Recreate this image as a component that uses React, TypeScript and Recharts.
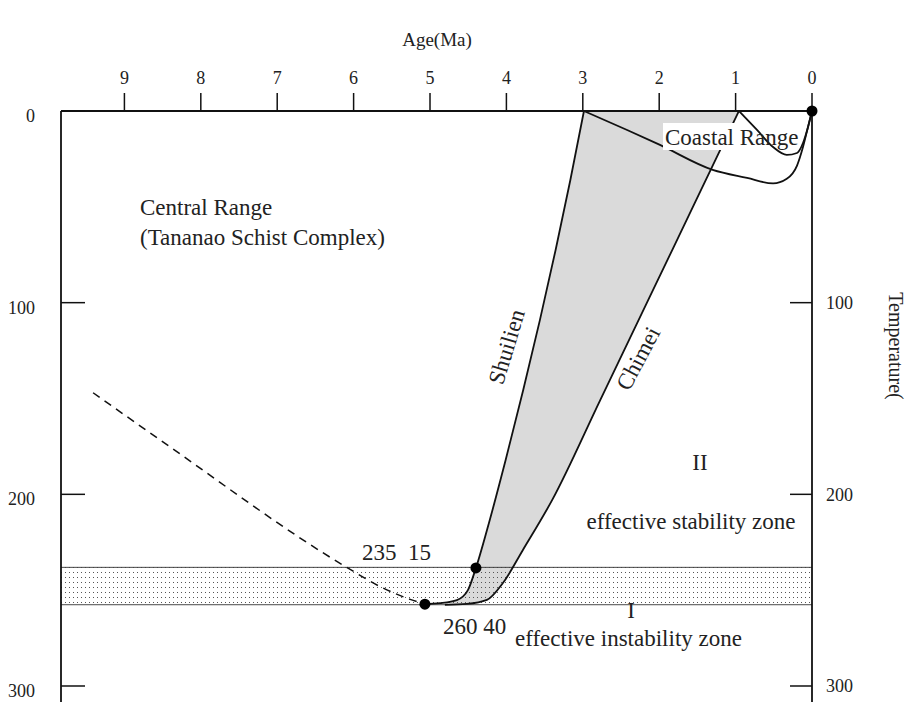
import { ComposedChart, Line, Area, XAxis, YAxis } from 'recharts'

// ages in Ma, temperatures in °C
const ageTicks = [0, 1, 2, 3, 4, 5, 6, 7, 8, 9]
const tempTicks = [0, 100, 200, 300]
const tempTicksRight = [100, 200, 300]

const shuilien = [
  { age: 5.067, T: 257.3 }, { age: 4.87, T: 256.8 }, { age: 4.648, T: 255.2 },
  { age: 4.504, T: 250.0 }, { age: 4.399, T: 238.4 }, { age: 4.254, T: 218.6 },
  { age: 4.01, T: 182.1 }, { age: 3.78, T: 145.6 }, { age: 3.561, T: 109.0 },
  { age: 3.356, T: 72.5 }, { age: 3.163, T: 36.0 }, { age: 2.985, T: 0 },
]

const chimei = [
  { age: 4.805, T: 257.7 }, { age: 4.517, T: 257.2 }, { age: 4.255, T: 255.1 },
  { age: 4.046, T: 246.3 }, { age: 3.784, T: 229.0 }, { age: 3.4, T: 202.9 },
  { age: 2.772, T: 150.8 }, { age: 2.143, T: 98.6 }, { age: 1.515, T: 46.4 },
  { age: 0.956, T: 0 },
]

const coastalOuter = [
  { age: 2.985, T: 0 }, { age: 2.42, T: 9.9 }, { age: 1.99, T: 17.7 },
  { age: 1.3, T: 30.7 }, { age: 0.85, T: 34.9 }, { age: 0.51, T: 37.8 },
  { age: 0.33, T: 35.4 }, { age: 0.196, T: 28.5 }, { age: 0.118, T: 18.8 },
  { age: 0.052, T: 8.3 }, { age: 0, T: 0 },
]

const coastalInner = [
  { age: 0.956, T: 0 }, { age: 0.72, T: 9.9 }, { age: 0.51, T: 18.8 },
  { age: 0.33, T: 22.9 }, { age: 0.196, T: 21.9 }, { age: 0.118, T: 16.7 },
  { age: 0.052, T: 8.3 }, { age: 0, T: 0 },
]

const centralPath = [
  { age: 9.41, T: 147 }, { age: 8.54, T: 171.4 }, { age: 6.09, T: 238.1 },
  { age: 5.66, T: 248 }, { age: 5.26, T: 254.8 }, { age: 5.067, T: 257.3 },
]

const samples = [
  { age: 0, T: 0 }, { age: 4.399, T: 238.4 }, { age: 5.067, T: 257.3 },
]

// partial annealing zone
const annealBand = [
  { age: 0, r: [238.1, 257.6] }, { age: 9.83, r: [238.1, 257.6] },
]

const INK = '#111'
const FONT = '"Liberation Serif", "Times New Roman", serif'
const tickStyle = { fontSize: 18, fill: '#222', fontFamily: FONT }

// eslint-disable-next-line @typescript-eslint/no-explicit-any
const leftTick = (p: any) => (
  <text x={p.x} y={p.y + 11} textAnchor="end" {...tickStyle}>{p.payload.value}</text>
)

export default function App() {
  return (
    <div style={{ position: 'absolute', left: 0, top: 0, width: 916, height: 702, background: '#fff' }}>
      <svg width={0} height={0} style={{ position: 'absolute' }}>
        <defs>
          <pattern id="dots" width={4} height={5} patternUnits="userSpaceOnUse">
            <rect x={1} y={2} width={1} height={1} fill="#555" />
          </pattern>
        </defs>
      </svg>
      <ComposedChart width={916} height={702} margin={{ top: 81, right: 44, bottom: 0, left: 11 }}>
        <XAxis
          dataKey="age"
          type="number"
          orientation="top"
          domain={[0, 9.83]}
          reversed
          ticks={ageTicks}
          interval={0}
          height={30}
          tickSize={18}
          tickMargin={9}
          axisLine={{ stroke: INK, strokeWidth: 1.8 }}
          tickLine={{ stroke: INK, strokeWidth: 1.5 }}
          tick={tickStyle}
        />
        <YAxis
          dataKey="T"
          type="number"
          domain={[0, 308.35]}
          reversed
          ticks={tempTicks}
          interval={0}
          width={50}
          tickSize={-24}
          tickMargin={50}
          axisLine={{ stroke: INK, strokeWidth: 1.8 }}
          tickLine={{ stroke: INK, strokeWidth: 1.5 }}
          tick={leftTick}
        />
        <YAxis
          yAxisId="r"
          orientation="right"
          type="number"
          domain={[0, 308.35]}
          reversed
          allowDataOverflow
          ticks={tempTicksRight}
          interval={0}
          width={60}
          tickSize={-22}
          tickMargin={36}
          axisLine={{ stroke: INK, strokeWidth: 1.8 }}
          tickLine={{ stroke: INK, strokeWidth: 1.5 }}
          tick={tickStyle}
        />
        <Area data={chimei} dataKey="T" type="monotone" baseValue={0} fill="#dadada" fillOpacity={1} stroke="none" isAnimationActive={false} />
        <Area data={shuilien} dataKey="T" type="monotone" baseValue={0} fill="#fff" fillOpacity={1} stroke="none" isAnimationActive={false} />
        <Area data={annealBand} dataKey="r" type="linear" fill="url(#dots)" fillOpacity={1} stroke="#333" strokeWidth={0.9} isAnimationActive={false} />
        <Line data={centralPath} dataKey="T" type="monotone" stroke={INK} strokeWidth={1.5} strokeDasharray="8 6" dot={false} activeDot={false} isAnimationActive={false} />
        <Line data={shuilien} dataKey="T" type="monotone" stroke={INK} strokeWidth={1.8} dot={false} activeDot={false} isAnimationActive={false} />
        <Line data={chimei} dataKey="T" type="monotone" stroke={INK} strokeWidth={1.8} dot={false} activeDot={false} isAnimationActive={false} />
        <Line data={coastalOuter} dataKey="T" type="monotone" stroke={INK} strokeWidth={1.8} dot={false} activeDot={false} isAnimationActive={false} />
        <Line data={coastalInner} dataKey="T" type="monotone" stroke={INK} strokeWidth={1.8} dot={false} activeDot={false} isAnimationActive={false} />
        <Line data={samples} dataKey="T" stroke="none" dot={{ r: 5.5, fill: '#000', stroke: 'none', clipDot: false }} activeDot={false} isAnimationActive={false} />
      </ComposedChart>
      <svg width={916} height={702} style={{ position: 'absolute', left: 0, top: 0, pointerEvents: 'none' }} fontFamily={FONT} fill="#222">
        <text x={437} y={46} fontSize={19} textAnchor="middle">Age(Ma)</text>
        <text x={0} y={0} fontSize={20} textAnchor="middle" transform="translate(889,346) rotate(90)">Temperature(</text>
        <text x={140} y={215} fontSize={23}>Central Range</text>
        <text x={140} y={245} fontSize={23}>(Tananao Schist Complex)</text>
        <rect x={663} y={123} width={79} height={27} fill="#fff" />
        <text x={665} y={145} fontSize={23}>Coastal Range</text>
        <text x={0} y={0} fontSize={23} textAnchor="middle" transform="translate(514,349) rotate(-73)">Shuilien</text>
        <text x={0} y={0} fontSize={23} textAnchor="middle" transform="translate(645,362) rotate(-62)">Chimei</text>
        <text x={700} y={470} fontSize={23} textAnchor="middle">II</text>
        <text x={691} y={529} fontSize={23} textAnchor="middle">effective stability zone</text>
        <text x={362} y={560} fontSize={23} style={{ whiteSpace: 'pre' }}>235  15</text>
        <text x={443} y={634} fontSize={23}>260 40</text>
        <text x={631} y={618} fontSize={23} textAnchor="middle">I</text>
        <text x={515} y={646} fontSize={23}>effective instability zone</text>
      </svg>
    </div>
  )
}
